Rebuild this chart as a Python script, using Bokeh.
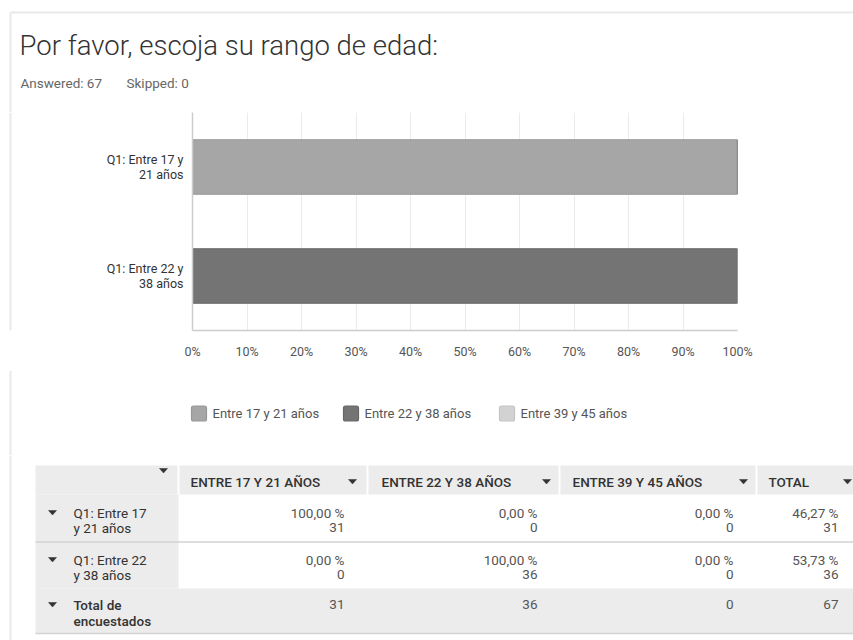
from bokeh.plotting import figure
from bokeh.layouts import column, row
from bokeh.models import Range1d, FactorRange, FixedTicker, ColumnDataSource
from bokeh.core.properties import value
from bokeh.transform import stack
from bokeh.embed import file_html
from bokeh.resources import INLINE

# ---------------- data ----------------
title_text = "Por favor, escoja su rango de edad:"
answered_text = "Answered: 67"
skipped_text = "Skipped: 0"

categories = ["Q1: Entre 17 y 21 años", "Q1: Entre 22 y 38 años"]
category_labels = ["Q1: Entre 17 y\n21 años", "Q1: Entre 22 y\n38 años"]
series_names = ["Entre 17 y 21 años", "Entre 22 y 38 años", "Entre 39 y 45 años"]
pct_17_21 = [100.0, 0.0]
pct_22_38 = [0.0, 100.0]
pct_39_45 = [0.0, 0.0]
count_17_21 = [31, 0]
count_22_38 = [0, 36]
count_39_45 = [0, 0]
total_pct = [46.27, 53.73]
total_count = [31, 36]
column_totals = [31, 36, 0, 67]
x_ticks = [0, 10, 20, 30, 40, 50, 60, 70, 80, 90, 100]
x_tick_labels = ["0%", "10%", "20%", "30%", "40%", "50%", "60%", "70%", "80%", "90%", "100%"]
table_header_labels = ["ENTRE 17 Y 21 AÑOS", "ENTRE 22 Y 38 AÑOS", "ENTRE 39 Y 45 AÑOS", "TOTAL"]
table_row_labels = [["Q1: Entre 17", "y 21 años"], ["Q1: Entre 22", "y 38 años"], ["Total de", "encuestados"]]

# ---------------- styles ----------------
FONT_NAME = "Roboto"
FONT = value(FONT_NAME)
FONT_LIGHT = value("Roboto Light")
FONT_MED = value("Roboto Medium")
fill_colors = ["#a6a6a6", "#747474", "#d2d2d2"]
line_colors = ["#979797", "#666666", "#c4c4c4"]
FRAME = "#e9e9e9"
CELL = "#ececec"
W = 853
H = 640


def pixel_fig(width, y_top, y_bottom):
    f = figure(width=width, height=y_bottom - y_top, x_range=Range1d(0, width),
               y_range=Range1d(y_bottom, y_top),
               output_backend="svg", toolbar_location=None, title=None,
               x_axis_type=None, y_axis_type=None, min_border=0)
    f.grid.visible = False
    f.outline_line_color = None
    f.background_fill_color = "white"
    f.border_fill_color = "white"
    return f


def fmt_pct(v):
    return ("%.2f" % v).replace(".", ",") + " %"


# ---------------- top: title ----------------
Y_BAR = 112
top = pixel_fig(W, 0, Y_BAR)
top.segment(x0=[10, 10], y0=[12, 12], x1=[W, 10], y1=[12, Y_BAR], line_color=FRAME, line_width=2)
top.text(x=[19], y=[45], text=[title_text], text_font=FONT_LIGHT, text_font_size="27.5px",
         text_color="#333333", text_baseline="alphabetic", text_align="left")
top.text(x=[20, 126], y=[82, 82], text=[answered_text, skipped_text], text_font=FONT,
         text_font_size="13.5px", text_color="#666666", text_baseline="alphabetic", text_align="left")

# ---------------- bar chart ----------------
FRAME_H = 218
Y_LEG = Y_BAR + FRAME_H + 40
STRIP_W = 12
strip = pixel_fig(STRIP_W, Y_BAR, Y_LEG)
strip.segment(x0=[10], y0=[Y_BAR], x1=[10], y1=[Y_LEG], line_color=FRAME, line_width=2)

src = ColumnDataSource(dict(cat=category_labels, s0=pct_17_21, s1=pct_22_38, s2=pct_39_45))
p = figure(width=W - STRIP_W, height=Y_LEG - Y_BAR, y_range=FactorRange(factors=category_labels[::-1]),
           x_range=Range1d(0, 100), output_backend="svg", toolbar_location=None, title=None,
           min_border_left=180, min_border_right=116, min_border_top=0, min_border_bottom=40)
p.outline_line_color = None
p.background_fill_color = "white"
p.border_fill_color = "white"
keys = ["s0", "s1", "s2"]
for i in [2, 0, 1]:
    p.hbar(y="cat", left=stack(*keys[:i]), right=stack(*keys[:i + 1]), height=0.5,
           source=src, fill_color=fill_colors[i], line_color=line_colors[i], line_width=1.2,
           legend_label=series_names[i])
p.legend.visible = False

p.xaxis.ticker = FixedTicker(ticks=x_ticks)
p.xaxis.major_label_overrides = {t: l for t, l in zip(x_ticks, x_tick_labels)}
p.xaxis.axis_line_color = "#cccccc"
p.xaxis.axis_line_width = 1.5
p.xaxis.major_tick_line_color = None
p.xaxis.major_tick_out = 0
p.xaxis.minor_tick_line_color = None
p.xaxis.minor_tick_out = 0
p.xaxis.major_label_text_font = FONT_NAME
p.xaxis.major_label_text_font_size = "12.5px"
p.xaxis.major_label_text_color = "#555555"
p.xaxis.major_label_standoff = 13

p.yaxis.axis_line_color = "#cccccc"
p.yaxis.axis_line_width = 1.5
p.yaxis.major_tick_line_color = None
p.yaxis.major_tick_out = 0
p.yaxis.major_label_text_font = FONT_NAME
p.yaxis.major_label_text_font_size = "12.5px"
p.yaxis.major_label_text_line_height = 1.05
p.yaxis.major_label_text_color = "#333333"
p.yaxis.major_label_standoff = 9

p.xgrid.ticker = FixedTicker(ticks=x_ticks)
p.xgrid.grid_line_color = "#ebebeb"
p.ygrid.visible = False

# ---------------- legend (drawn as swatches + labels) ----------------
Y_TAB = 455
leg = pixel_fig(W, Y_LEG, Y_TAB)
leg.segment(x0=[10], y0=[Y_LEG], x1=[10], y1=[Y_TAB], line_color=FRAME, line_width=2)
swatch_x = [191, 343, 499]
swatch_size = 15
swatch_y = 413
leg.quad(left=swatch_x, right=[x + swatch_size for x in swatch_x],
         top=[swatch_y - swatch_size / 2] * 3, bottom=[swatch_y + swatch_size / 2] * 3,
         fill_color=fill_colors, line_color=line_colors, line_width=1.2, border_radius=2)
leg.text(x=[x + swatch_size + 6 for x in swatch_x], y=[swatch_y] * 3, text=series_names,
         text_font=FONT, text_font_size="13px", text_color="#555555",
         text_baseline="middle", text_align="left")

# ---------------- table ----------------
t = pixel_fig(W, Y_TAB, H)
t.segment(x0=[10], y0=[Y_TAB], x1=[10], y1=[H], line_color=FRAME, line_width=2)
col_edges = [35, 178, 367, 559, 756, 880]
row_edges = [465, 494, 541, 588, 633]
header_x = [190, 381, 572, 768]
header_arrow_x = [352, 546, 743, 847]
value_right = [344, 537, 733, 838]
line_y = [(512, 527), (559, 574), (604, 620)]

# header cells
t.quad(left=[col_edges[i] + (1 if i > 0 else 0) for i in range(5)],
       right=[col_edges[i + 1] - 1 for i in range(5)],
       top=[row_edges[0]] * 5, bottom=[row_edges[1]] * 5, fill_color=CELL, line_color=None)
# first column (row headers) and total row
t.quad(left=[col_edges[0]] * 3, right=[col_edges[1], col_edges[1], W],
       top=row_edges[1:4], bottom=row_edges[2:5], fill_color=CELL, line_color=None)
t.segment(x0=[col_edges[0], col_edges[0]], y0=[row_edges[2] + 0.5, row_edges[4]],
          x1=[W, W], y1=[row_edges[2] + 0.5, row_edges[4]], line_color="#d2d2d2", line_width=1.5)

# arrows
arrow_pts = [(163, 470)] + [(x, 481) for x in header_arrow_x] + [(52, ly[0]) for ly in line_y]
t.patches(xs=[[x - 4, x + 4, x] for x, y in arrow_pts], ys=[[y - 2, y - 2, y + 2.5] for x, y in arrow_pts],
          fill_color="#333333", line_color="#333333", line_width=0.5)

# header labels
t.text(x=header_x, y=[481] * 4, text=table_header_labels,
       text_font=FONT_MED, text_font_size="13.5px", text_color="#333333",
       text_baseline="middle", text_align="left")

# row labels
for k, (lines, ys) in enumerate(zip(table_row_labels, line_y)):
    t.text(x=[73, 73], y=list(ys), text=lines, text_font=FONT_MED if k == 2 else FONT,
           text_font_size="13.5px", text_color="#333333", text_baseline="middle", text_align="left")

# values
cols_pct = [pct_17_21, pct_22_38, pct_39_45, total_pct]
cols_cnt = [count_17_21, count_22_38, count_39_45, total_count]
vx, vy, vt = [], [], []
for c in range(4):
    for r in range(2):
        vx += [value_right[c], value_right[c]]
        vy += [line_y[r][0], line_y[r][1]]
        vt += [fmt_pct(cols_pct[c][r]), str(cols_cnt[c][r])]
    vx.append(value_right[c]); vy.append(line_y[2][0]); vt.append(str(column_totals[c]))
t.text(x=vx, y=vy, text=vt, text_font=FONT, text_font_size="13.5px", text_color="#555555",
       text_baseline="middle", text_align="right")

layout = column(top, row(strip, p, spacing=0), leg, t, spacing=0)
open("out.html", "w").write(file_html(layout, INLINE))
